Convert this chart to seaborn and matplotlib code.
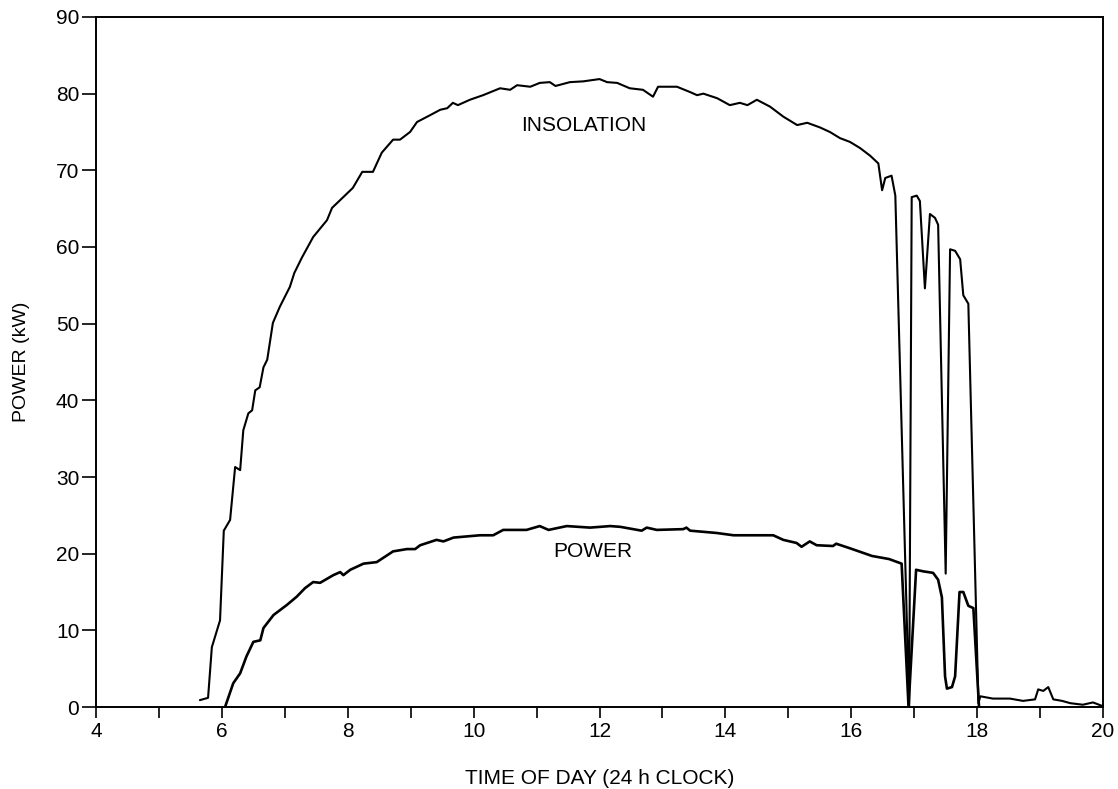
import numpy as np
import pandas as pd
import matplotlib
matplotlib.use("Agg")
import matplotlib.pyplot as plt
import seaborn as sns

# --- values (time in hours, power in kW) ---
insol_t = [5.65, 5.78, 5.84, 5.97, 6.03, 6.13, 6.21, 6.29, 6.34, 6.42, 6.48, 6.53, 6.60,
           6.66, 6.72, 6.81, 6.92, 7.08, 7.15, 7.27, 7.45, 7.67, 7.75, 8.08, 8.23, 8.40,
           8.54, 8.72, 8.83, 8.99, 9.10, 9.31, 9.47, 9.58, 9.67, 9.75, 9.94, 10.15, 10.42,
           10.58, 10.69, 10.90, 11.05, 11.21, 11.30, 11.53, 11.74, 12.00, 12.12, 12.28,
           12.48, 12.69, 12.85, 12.93, 13.23, 13.44, 13.55, 13.65, 13.87, 14.07, 14.23,
           14.35, 14.50, 14.71, 14.92, 15.14, 15.30, 15.50, 15.66, 15.82, 15.98, 16.14,
           16.30, 16.43, 16.49, 16.54, 16.64, 16.70, 16.92, 16.96, 17.04, 17.09, 17.17,
           17.25, 17.33, 17.38, 17.50, 17.57, 17.65, 17.73, 17.78, 17.86, 18.02, 18.05,
           18.25, 18.52, 18.73, 18.92, 18.97, 19.05, 19.13, 19.21, 19.35, 19.48, 19.68,
           19.84, 20.00]
insol_v = [0.9, 1.2, 7.8, 11.3, 23.0, 24.4, 31.3, 30.9, 36.1, 38.3, 38.7, 41.3, 41.7,
           44.3, 45.3, 50.1, 52.2, 54.8, 56.6, 58.6, 61.3, 63.5, 65.1, 67.7, 69.8, 69.8,
           72.3, 74.0, 74.0, 75.0, 76.3, 77.2, 77.9, 78.1, 78.8, 78.5, 79.2, 79.8, 80.7,
           80.5, 81.1, 80.9, 81.4, 81.5, 81.0, 81.5, 81.6, 81.9, 81.5, 81.4,
           80.7, 80.5, 79.6, 80.9, 80.9, 80.2, 79.8, 80.0, 79.4, 78.5, 78.8,
           78.5, 79.2, 78.3, 77.0, 75.9, 76.2, 75.6, 75.0, 74.2, 73.7, 72.9,
           71.9, 70.9, 67.4, 69.0, 69.3, 66.7, 0.0, 66.5, 66.7, 66.0, 54.6,
           64.3, 63.8, 62.9, 17.4, 59.7, 59.5, 58.4, 53.7, 52.6, 0.5, 1.4,
           1.1, 1.1, 0.8, 1.0, 2.3, 2.1, 2.6, 1.0, 0.8, 0.5, 0.3,
           0.6, 0.1]

power_t = [6.05, 6.18, 6.29, 6.39, 6.50, 6.61, 6.66, 6.82, 7.03, 7.19, 7.32, 7.45, 7.56,
           7.77, 7.88, 7.93, 8.04, 8.25, 8.46, 8.72, 8.94, 9.07, 9.15, 9.41, 9.52, 9.68,
           10.10, 10.31, 10.47, 10.84, 11.05, 11.19, 11.48, 11.85, 12.17, 12.33, 12.67,
           12.75, 12.91, 13.33, 13.38, 13.44, 13.86, 14.13, 14.76, 14.92, 15.13, 15.21,
           15.34, 15.45, 15.71, 15.76, 15.98, 16.33, 16.60, 16.80, 16.91, 17.03, 17.14,
           17.30, 17.38, 17.44, 17.49, 17.52, 17.60, 17.65, 17.72, 17.78, 17.86, 17.94,
           18.03]
power_v = [0.0, 3.1, 4.4, 6.6, 8.5, 8.7, 10.3, 12.0, 13.3, 14.4, 15.5, 16.3, 16.2,
           17.2, 17.6, 17.2, 17.9, 18.7, 18.9, 20.3, 20.6, 20.6, 21.1, 21.8, 21.6, 22.1,
           22.4, 22.4, 23.1, 23.1, 23.6, 23.1, 23.6, 23.4, 23.6, 23.5, 23.0,
           23.4, 23.1, 23.2, 23.4, 23.0, 22.7, 22.4, 22.4, 21.8, 21.4, 20.9,
           21.6, 21.1, 21.0, 21.3, 20.7, 19.7, 19.3, 18.7, 0.0, 17.9, 17.7,
           17.5, 16.6, 14.3, 4.0, 2.4, 2.6, 4.0, 15.0, 15.0, 13.2, 12.9,
           0.0]

x_ticks = list(range(4, 21))
x_labels = [str(h) if h % 2 == 0 else "" for h in x_ticks]
y_ticks = list(range(0, 91, 10))

sns.set_style("white")
plt.rcParams['font.family'] = ['Liberation Sans', 'DejaVu Sans']
plt.rcParams['text.color'] = 'black'
plt.rcParams['axes.labelcolor'] = 'black'

fig = plt.figure(figsize=(11.18, 7.89), dpi=100)
ax = fig.add_axes([0.0859, 0.1039, 0.9007, 0.8746])

df_i = pd.DataFrame({"t": insol_t, "v": insol_v})
df_p = pd.DataFrame({"t": power_t, "v": power_v})
sns.lineplot(data=df_i, x="t", y="v", ax=ax, color="black", linewidth=1.5, sort=False)
sns.lineplot(data=df_p, x="t", y="v", ax=ax, color="black", linewidth=1.9, sort=False)

ax.set_xlim(4, 20)
ax.set_ylim(0, 90)
ax.set_xticks(x_ticks)
ax.set_xticklabels(x_labels)
ax.set_yticks(y_ticks)
ax.tick_params(axis="both", direction="out", colors="black", labelcolor="black",
               labelsize=15, width=1.2, bottom=True, left=True)
ax.tick_params(axis="y", length=10, pad=2)
ax.tick_params(axis="x", length=8, pad=3)
for s in ax.spines.values():
    s.set_color("black")
    s.set_linewidth(1.4)

ax.set_xlabel("TIME OF DAY (24 h CLOCK)", fontsize=15, labelpad=20, color="black")
ax.set_ylabel("POWER (kW)", fontsize=14, labelpad=19, color="black")

ax.text(11.75, 75.8, "INSOLATION", fontsize=15, ha="center", va="center", color="black")
ax.text(11.9, 20.3, "POWER", fontsize=15, ha="center", va="center", color="black")

fig.savefig("out.png", dpi=100)
